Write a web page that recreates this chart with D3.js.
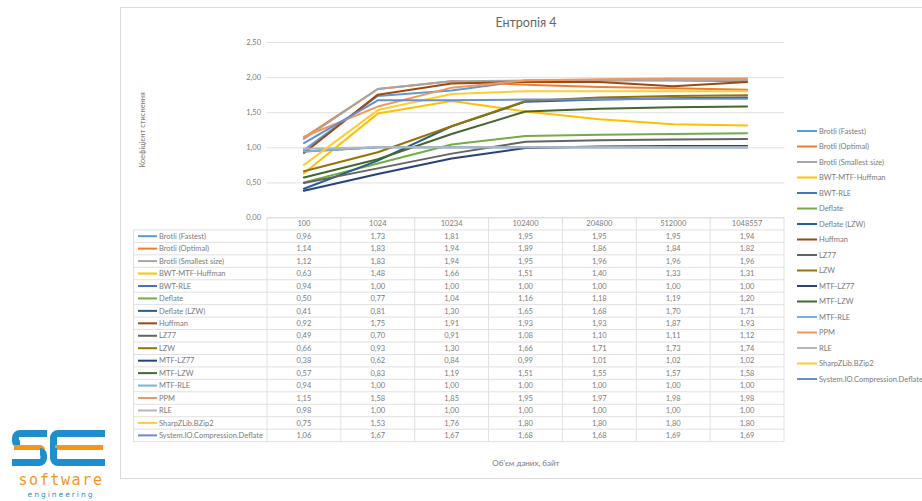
<!DOCTYPE html>
<html>
<head>
<meta charset="utf-8">
<script src="https://cdn.jsdelivr.net/npm/d3@7/dist/d3.min.js"></script>
<style>
  html, body { margin: 0; padding: 0; background: #fff; }
  svg { display: block; font-family: Lato, "Open Sans", sans-serif; }
</style>
</head>
<body>
<svg id="chart" width="922" height="501"></svg>
<script>
// Compression ratio by input size, entropy 4
const categories = ["100", "1024", "10234", "102400", "204800", "512000", "1048557"];

const seriesNames = [
  "Brotli (Fastest)", "Brotli (Optimal)", "Brotli (Smallest size)", "BWT-MTF-Huffman",
  "BWT-RLE", "Deflate", "Deflate (LZW)", "Huffman", "LZ77", "LZW", "MTF-LZ77",
  "MTF-LZW", "MTF-RLE", "PPM", "RLE", "SharpZLib.BZip2", "System.IO.Compression.Deflate"
];

const brotliFastest   = [0.96, 1.73, 1.81, 1.95, 1.95, 1.95, 1.94];
const brotliOptimal   = [1.14, 1.83, 1.94, 1.89, 1.86, 1.84, 1.82];
const brotliSmallest  = [1.12, 1.83, 1.94, 1.95, 1.96, 1.96, 1.96];
const bwtMtfHuffman   = [0.63, 1.48, 1.66, 1.51, 1.40, 1.33, 1.31];
const bwtRle          = [0.94, 1.00, 1.00, 1.00, 1.00, 1.00, 1.00];
const deflate         = [0.50, 0.77, 1.04, 1.16, 1.18, 1.19, 1.20];
const deflateLzw      = [0.41, 0.81, 1.30, 1.65, 1.68, 1.70, 1.71];
const huffman         = [0.92, 1.75, 1.91, 1.93, 1.93, 1.87, 1.93];
const lz77            = [0.49, 0.70, 0.91, 1.08, 1.10, 1.11, 1.12];
const lzw             = [0.66, 0.93, 1.30, 1.66, 1.71, 1.73, 1.74];
const mtfLz77         = [0.38, 0.62, 0.84, 0.99, 1.01, 1.02, 1.02];
const mtfLzw          = [0.57, 0.83, 1.19, 1.51, 1.55, 1.57, 1.58];
const mtfRle          = [0.94, 1.00, 1.00, 1.00, 1.00, 1.00, 1.00];
const ppm             = [1.15, 1.58, 1.85, 1.95, 1.97, 1.98, 1.98];
const rle             = [0.98, 1.00, 1.00, 1.00, 1.00, 1.00, 1.00];
const sharpZLibBZip2  = [0.75, 1.53, 1.76, 1.80, 1.80, 1.80, 1.80];
const systemIoDeflate = [1.06, 1.67, 1.67, 1.68, 1.68, 1.69, 1.69];

const seriesValues = [
  brotliFastest, brotliOptimal, brotliSmallest, bwtMtfHuffman, bwtRle, deflate,
  deflateLzw, huffman, lz77, lzw, mtfLz77, mtfLzw, mtfRle, ppm, rle,
  sharpZLibBZip2, systemIoDeflate
];

const seriesColors = [
  "#5B9BD5", "#ED7D31", "#A5A5A5", "#FFC000", "#4472C4", "#70AD47",
  "#255E91", "#9E480E", "#636363", "#997300", "#264478", "#43682B",
  "#7CAFDD", "#F1975A", "#B7B7B7", "#FFCD33", "#698ED0"
];

const yTicks = [0, 0.5, 1, 1.5, 2, 2.5];

const chartTitle = "Ентропія 4";
const yTitle = "Коефіцієнт стиснення";
const xTitle = "Об'єм даних, байт";

const series = seriesNames.map((name, i) => ({ name, values: seriesValues[i], color: seriesColors[i] }));

const comma = d3.formatLocale({ decimal: ",", thousands: " ", grouping: [3], currency: ["", ""] }).format(".2f");

const svg = d3.select("#chart");
const textColor = "#7a7a7a";
const gridColor = "#e0e0e0";

// chart frame
svg.append("rect")
  .attr("x", 120.5).attr("y", 7.5).attr("width", 830).attr("height", 471)
  .attr("fill", "#fff").attr("stroke", "#dcdcdc");

// scales
const x = d3.scaleBand().domain(categories).range([267, 784]);
const y = d3.scaleLinear().domain([0, 2.5]).range([217.5, 42]);

// gridlines
svg.append("g")
  .attr("transform", "translate(267,0)")
  .call(d3.axisLeft(y).tickValues(yTicks).tickSize(-(784 - 267)).tickFormat(""))
  .call(g => g.select(".domain").remove())
  .call(g => g.selectAll("line").attr("stroke", gridColor).attr("stroke-width", 1));

// y tick labels
svg.append("g")
  .attr("transform", "translate(261,0)")
  .call(d3.axisLeft(y).tickValues(yTicks).tickSize(0).tickPadding(0).tickFormat(comma))
  .call(g => g.select(".domain").remove())
  .call(g => g.selectAll("text").attr("fill", textColor).attr("font-size", 7.5)
    .attr("font-family", "Lato, 'Open Sans', sans-serif"));

// series lines
const line = d3.line()
  .x((d, i) => x(categories[i]) + x.bandwidth() / 2)
  .y(d => y(d));

svg.append("g")
  .selectAll("path")
  .data(series)
  .join("path")
  .attr("d", d => line(d.values))
  .attr("fill", "none")
  .attr("stroke", d => d.color)
  .attr("stroke-width", 2)
  .attr("stroke-linejoin", "round")
  .attr("stroke-linecap", "round");

// data table
const tableTop = 217.5;
const rowH = 12.45;
const tableLeft = 133.5;
const tableRight = 784;
const tableBottom = tableTop + rowH * (series.length + 1);

const table = svg.append("g");

// header border (category columns only)
table.append("line")
  .attr("x1", 267).attr("x2", tableRight).attr("y1", tableTop).attr("y2", tableTop)
  .attr("stroke", gridColor);

// row separators
table.selectAll("line.row")
  .data(d3.range(series.length + 1))
  .join("line")
  .attr("class", "row")
  .attr("x1", tableLeft).attr("x2", tableRight)
  .attr("y1", i => tableTop + rowH * (i + 1))
  .attr("y2", i => tableTop + rowH * (i + 1))
  .attr("stroke", gridColor);

// column separators
const colEdges = categories.map(c => x(c)).concat([x(categories[categories.length - 1]) + x.bandwidth()]);
table.selectAll("line.col")
  .data(colEdges)
  .join("line")
  .attr("class", "col")
  .attr("x1", d => d).attr("x2", d => d)
  .attr("y1", tableTop).attr("y2", tableBottom)
  .attr("stroke", gridColor);
table.append("line")
  .attr("x1", tableLeft).attr("x2", tableLeft)
  .attr("y1", tableTop + rowH).attr("y2", tableBottom)
  .attr("stroke", gridColor);

// category header via band axis
svg.append("g")
  .attr("transform", `translate(0,${tableTop})`)
  .call(d3.axisBottom(x).tickSize(0).tickPadding(3))
  .call(g => g.select(".domain").remove())
  .call(g => g.selectAll("text").attr("fill", textColor).attr("font-size", 7.5)
    .attr("font-family", "Lato, 'Open Sans', sans-serif"));

// table rows
const rows = table.selectAll("g.trow")
  .data(series)
  .join("g")
  .attr("class", "trow")
  .attr("transform", (d, i) => `translate(0,${tableTop + rowH * (i + 1) + rowH / 2})`);

rows.append("line")
  .attr("x1", 138).attr("x2", 157).attr("y1", 0).attr("y2", 0)
  .attr("stroke", d => d.color).attr("stroke-width", 2);

rows.append("text")
  .attr("x", 159).attr("dy", "0.35em")
  .attr("font-size", 7.5).attr("fill", textColor)
  .text(d => d.name);

rows.selectAll("text.val")
  .data(d => d.values)
  .join("text")
  .attr("class", "val")
  .attr("x", (v, i) => x(categories[i]) + x.bandwidth() / 2)
  .attr("dy", "0.35em")
  .attr("text-anchor", "middle")
  .attr("font-size", 7.5).attr("fill", textColor)
  .text(v => comma(v));

// legend
const legend = svg.append("g")
  .selectAll("g")
  .data(series)
  .join("g")
  .attr("transform", (d, i) => `translate(797,${131 + i * 15.5})`);

legend.append("line")
  .attr("x1", 0).attr("x2", 20).attr("y1", 0).attr("y2", 0)
  .attr("stroke", d => d.color).attr("stroke-width", 2);

legend.append("text")
  .attr("x", 22).attr("dy", "0.35em")
  .attr("font-size", 7.5).attr("fill", textColor)
  .text(d => d.name);

// titles
svg.append("text")
  .attr("x", 526).attr("y", 27)
  .attr("text-anchor", "middle")
  .attr("font-size", 12.5).attr("fill", "#666")
  .text(chartTitle);

svg.append("text")
  .attr("transform", "translate(142,130) rotate(-90)")
  .attr("text-anchor", "middle")
  .attr("dy", "0.35em")
  .attr("font-size", 7.5).attr("fill", textColor)
  .text(yTitle);

svg.append("text")
  .attr("x", 526).attr("y", 466)
  .attr("text-anchor", "middle")
  .attr("font-size", 8).attr("fill", textColor)
  .text(xTitle);

// company logo
const logo = svg.append("g");
const blue = "#1f8fcb";
const orange = "#f7941d";

// S
logo.append("path")
  .attr("d", "M47,430 H20 A8,8 0 0 0 12,438 V441 A7,7 0 0 0 19,448 H20 V441 A4,4 0 0 1 19,437 V437 H47 Z")
  .attr("fill", blue);
logo.append("path")
  .attr("d", "M14,445 H40 A5,5 0 0 1 45,450 V451 H40 V450 H14 Z")
  .attr("fill", orange);
logo.append("path")
  .attr("d", "M12,466 H39 A8,8 0 0 0 47,458 V455 A7,7 0 0 0 40,448 V455 A4,4 0 0 1 40,459 H12 Z")
  .attr("fill", blue);

// E
logo.append("path")
  .attr("d", "M105,430 H58 A8,8 0 0 0 50,438 V448 H57 V438 A1,1 0 0 1 58,437 H105 Z")
  .attr("fill", blue);
logo.append("path")
  .attr("d", "M55,445 H103 V450 H55 Z")
  .attr("fill", orange);
logo.append("path")
  .attr("d", "M105,466 H58 A8,8 0 0 1 50,458 V448 H57 V458 A1,1 0 0 0 58,459 H105 Z")
  .attr("fill", blue);

logo.append("text")
  .attr("x", 61).attr("y", 485)
  .attr("text-anchor", "middle")
  .attr("font-family", "'DejaVu Sans Mono', monospace")
  .attr("font-size", 15).attr("letter-spacing", 1.6)
  .attr("fill", orange)
  .text("software");

logo.append("text")
  .attr("x", 61).attr("y", 497)
  .attr("text-anchor", "middle")
  .attr("font-family", "'DejaVu Sans', sans-serif")
  .attr("font-size", 7.5).attr("letter-spacing", 2)
  .attr("fill", blue)
  .text("engineering");
</script>
</body>
</html>
